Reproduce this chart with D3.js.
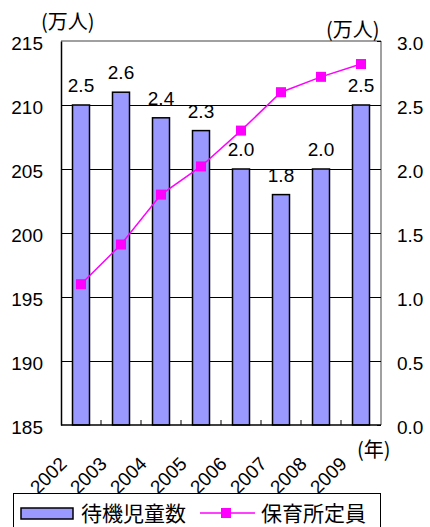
<!DOCTYPE html>
<html>
<head>
<meta charset="utf-8">
<script src="https://cdn.jsdelivr.net/npm/d3@7"></script>
<style>
  html, body { margin: 0; padding: 0; background: #fff; }
  svg { display: block; }
  .num { font-family: "Liberation Sans", Arial, sans-serif; fill: #000; }
  .cjk { font-family: "Noto Sans CJK JP", sans-serif; fill: #000; }
</style>
</head>
<body>
<svg id="chart" width="430" height="527"></svg>
<script>
// Years on the category axis
const years = ["2002", "2003", "2004", "2005", "2006", "2007", "2008", "2009"];
// 待機児童数 (万人), right axis
const waiting = [2.5, 2.6, 2.4, 2.3, 2.0, 1.8, 2.0, 2.5];
// 保育所定員 (万人), left axis
const capacity = [196.0, 199.1, 203.0, 205.2, 208.0, 211.0, 212.2, 213.2];
// Axis ticks
const leftTicks = [185, 190, 195, 200, 205, 210, 215];
const rightTicks = [0, 0.5, 1.0, 1.5, 2.0, 2.5, 3.0];

const svg = d3.select("#chart");
const m = { left: 61, right: 381, top: 41, bottom: 425 };

const x = d3.scaleBand().domain(years).range([m.left, m.right]).paddingInner(0.575).paddingOuter(0.2875);
const xBand = d3.scaleBand().domain(years).range([m.left, m.right]);
const yL = d3.scaleLinear().domain([185, 215]).range([m.bottom, m.top]);
const yR = d3.scaleLinear().domain([0, 3.0]).range([m.bottom, m.top]);

// Horizontal gridlines
svg.append("g").selectAll("line").data(leftTicks.slice(1, -1)).join("line")
  .attr("x1", m.left).attr("x2", m.right)
  .attr("y1", d => yL(d)).attr("y2", d => yL(d))
  .attr("stroke", "#000").attr("stroke-width", 1).attr("shape-rendering", "crispEdges");

// Frame: grey top and right, black left and bottom
svg.append("line").attr("x1", m.left).attr("x2", m.right).attr("y1", m.top).attr("y2", m.top)
  .attr("stroke", "#808080").attr("stroke-width", 1.5);
svg.append("line").attr("x1", m.right).attr("x2", m.right).attr("y1", m.top).attr("y2", m.bottom)
  .attr("stroke", "#808080").attr("stroke-width", 1.5);

// Bars
svg.append("g").selectAll("rect").data(years).join("rect")
  .attr("x", d => x(d)).attr("width", x.bandwidth())
  .attr("y", (d, i) => yR(waiting[i]))
  .attr("height", (d, i) => m.bottom - yR(waiting[i]))
  .attr("fill", "#9999ff").attr("stroke", "#000").attr("stroke-width", 1.5);

// Bar value labels
svg.append("g").selectAll("text").data(years).join("text")
  .attr("class", "num")
  .attr("x", d => x(d) + x.bandwidth() / 2)
  .attr("y", (d, i) => yR(waiting[i]) - 13)
  .attr("text-anchor", "middle").attr("font-size", 19)
  .text((d, i) => waiting[i].toFixed(1));

// Left axis
const axL = d3.axisLeft(yL).tickValues(leftTicks).tickSize(0).tickPadding(18).tickFormat(d3.format("d"));
const gL = svg.append("g").attr("transform", `translate(${m.left},0)`).call(axL);
gL.select(".domain").attr("stroke", "#000").attr("stroke-width", 1.5);
gL.selectAll("text").attr("class", "num").attr("font-size", 19).attr("dy", "0.45em");

// Right axis
const axR = d3.axisRight(yR).tickValues(rightTicks).tickSize(-4).tickPadding(16).tickFormat(d3.format(".1f"));
const gR = svg.append("g").attr("transform", `translate(${m.right},0)`).call(axR);
gR.select(".domain").remove();
gR.selectAll("line").attr("stroke", "#000");
gR.selectAll("text").attr("class", "num").attr("font-size", 19).attr("dy", "0.45em");

// Bottom axis with inward ticks at category boundaries
svg.append("line").attr("x1", m.left).attr("x2", m.right).attr("y1", m.bottom).attr("y2", m.bottom)
  .attr("stroke", "#000").attr("stroke-width", 1.5);
svg.append("g").selectAll("line").data(years.slice(1)).join("line")
  .attr("x1", d => xBand(d)).attr("x2", d => xBand(d))
  .attr("y1", m.bottom).attr("y2", m.bottom - 5)
  .attr("stroke", "#000").attr("stroke-width", 1);

// Rotated year labels
svg.append("g").selectAll("text").data(years).join("text")
  .attr("class", "num").attr("font-size", 19).attr("text-anchor", "end")
  .attr("transform", d => `translate(${xBand(d) + xBand.bandwidth() / 2 - 13},${m.bottom + 40}) rotate(-45)`)
  .text(d => d);

// Line series
const line = d3.line().x((d, i) => xBand(years[i]) + xBand.bandwidth() / 2).y(d => yL(d));
svg.append("path").datum(capacity).attr("d", line)
  .attr("fill", "none").attr("stroke", "#ff00ff").attr("stroke-width", 1.5);
svg.append("g").selectAll("rect").data(capacity).join("rect")
  .attr("x", (d, i) => xBand(years[i]) + xBand.bandwidth() / 2 - 5)
  .attr("y", d => yL(d) - 5)
  .attr("width", 10).attr("height", 10).attr("fill", "#ff00ff");

// Unit labels
svg.append("text").attr("class", "cjk").attr("x", 41).attr("y", 29).attr("font-size", 20).text("(万人)");
svg.append("text").attr("class", "cjk").attr("x", 326).attr("y", 37).attr("font-size", 20).text("(万人)");
svg.append("text").attr("class", "cjk").attr("x", 357).attr("y", 457).attr("font-size", 20).text("(年)");

// Legend
const lg = svg.append("g");
lg.append("rect").attr("x", 13.5).attr("y", 493.5).attr("width", 367).attr("height", 40)
  .attr("fill", "#fff").attr("stroke", "#000").attr("stroke-width", 1);
lg.append("rect").attr("x", 21).attr("y", 508).attr("width", 52).attr("height", 11)
  .attr("fill", "#9999ff").attr("stroke", "#000").attr("stroke-width", 1.5);
lg.append("text").attr("class", "cjk").attr("x", 81).attr("y", 521).attr("font-size", 21).text("待機児童数");
lg.append("line").attr("x1", 200).attr("x2", 255).attr("y1", 513).attr("y2", 513)
  .attr("stroke", "#ff00ff").attr("stroke-width", 1.5);
lg.append("rect").attr("x", 221).attr("y", 508).attr("width", 10).attr("height", 10).attr("fill", "#ff00ff");
lg.append("text").attr("class", "cjk").attr("x", 261).attr("y", 521).attr("font-size", 21).text("保育所定員");
</script>
</body>
</html>
